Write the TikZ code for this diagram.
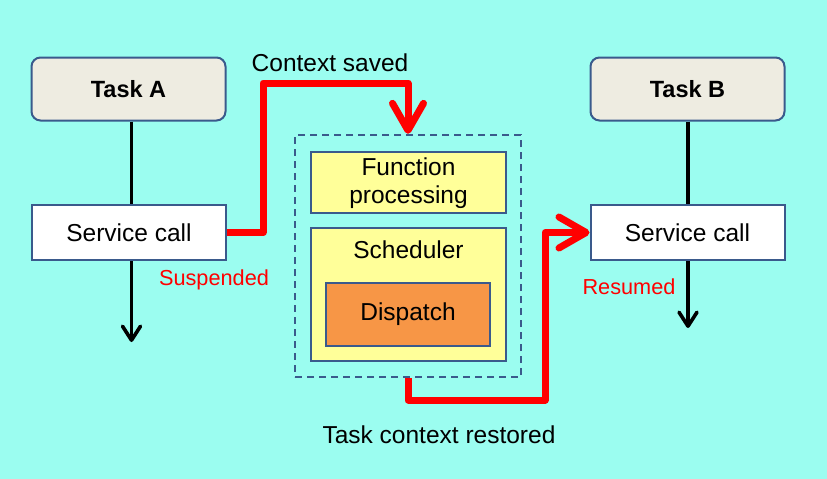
\documentclass[tikz,border=0pt]{standalone}
\usepackage{fontspec}
\setmainfont{Liberation Sans}
\usetikzlibrary{arrows.meta}
\definecolor{bgcyan}{HTML}{9BFDF0}
\definecolor{boxblue}{HTML}{3A5A8C}
\definecolor{taskfill}{HTML}{EEECE1}
\definecolor{yellowfill}{HTML}{FFFF99}
\definecolor{orangefill}{HTML}{F79646}
\definecolor{flowred}{HTML}{FF0000}
\begin{document}
\begin{tikzpicture}[x=1pt,y=-1pt,
  txt/.style={font=\fontsize{24.5}{28}\selectfont, text=black},
  box/.style={draw=boxblue, line width=2pt, inner sep=0pt, align=center, txt},
  taskbox/.style={box, fill=taskfill, rounded corners=9pt, minimum width=194pt, minimum height=63pt, font=\fontsize{23.5}{28}\selectfont\bfseries},
  callbox/.style={box, fill=white, minimum width=194pt, minimum height=55pt},
  redlabel/.style={font=\fontsize{21.7}{26}\selectfont, text=flowred, inner sep=0pt},
  plainlabel/.style={txt, inner sep=0pt},
  blk/.style={draw=black, line width=3.6pt},
  blkarrow/.style={blk, -{Straight Barb[length=14pt,width=18pt,round]}},
  redflow/.style={draw=flowred, line width=7pt, line join=round, -{Straight Barb[length=27pt,width=31pt,round]}}
]
\fill[bgcyan] (0,0) rectangle (827,479);
\useasboundingbox (0,0) rectangle (827,479);

% left task
\node[taskbox] (taskA) at (128.5,89) {Task A};
\node[callbox] (sA) at (129,232.5) {Service call};
\coordinate (endA) at (131.5,342);
\draw[blk] (taskA.south -| endA) -- (sA.north -| endA);
\draw[blkarrow] (sA.south -| endA) -- (endA);
\node[redlabel] (susp) at (214,280) {Suspended};

% right task
\node[taskbox] (taskB) at (687.5,89) {Task B};
\node[callbox] (sB) at (687.5,232.5) {Service call};
\coordinate (endB) at (688,328);
\draw[blk] (taskB.south -| endB) -- (sB.north -| endB);
\draw[blkarrow] (sB.south -| endB) -- (endB);
\node[redlabel] (resumed) at (629,287) {Resumed};

% kernel
\node[draw=boxblue, line width=2.3pt, dash pattern=on 7pt off 5pt, minimum width=226pt, minimum height=242pt, inner sep=0pt] (dash) at (408,256) {};
\node[box, fill=yellowfill, minimum width=195pt, minimum height=61pt] (func) at (408.5,182.5) {\strut Function\\processing};
\node[box, fill=yellowfill, minimum width=195pt, minimum height=133pt] (sched) at (408.5,294.5) {};
\node[plainlabel] (schedlabel) at (408.5,250) {Scheduler};
\node[box, fill=orangefill, minimum width=164pt, minimum height=63pt] (disp) at (408,314.5) {Dispatch};

% labels
\node[plainlabel] (saved) at (330,63) {Context saved};
\node[plainlabel] (restored) at (439,435) {Task context restored};

% red flows
\draw[redflow] (sA.east) -| (263,83) -| (dash.north);
\draw[redflow] (dash.south) |- (545,400) |- (sB.west);
\end{tikzpicture}
\end{document}
